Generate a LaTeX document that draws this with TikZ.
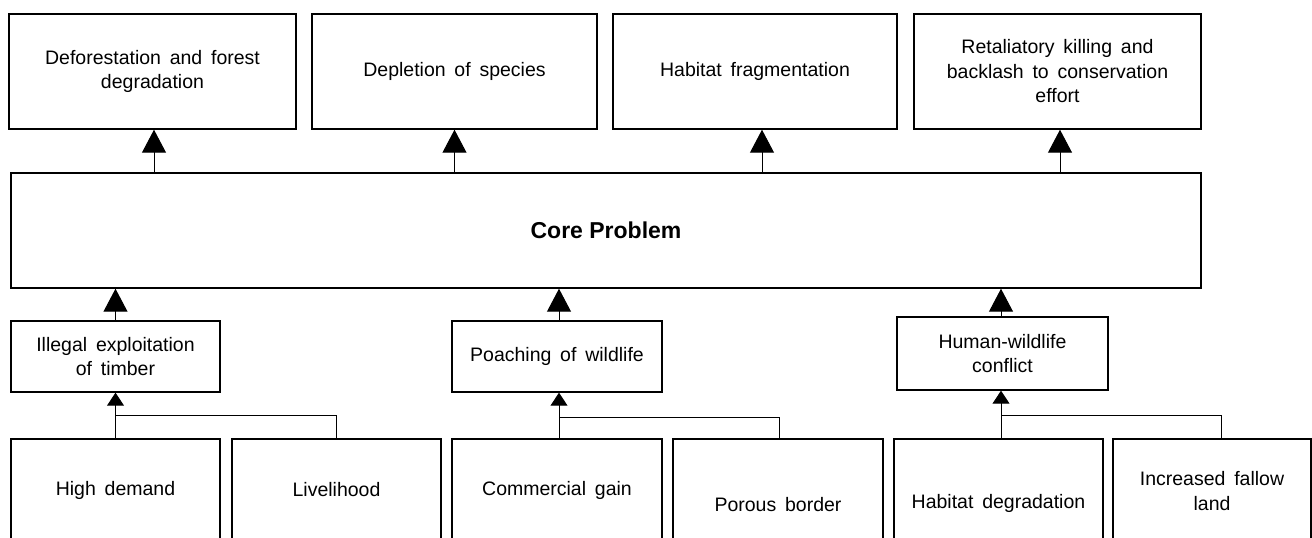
\documentclass[tikz,border=0pt]{standalone}
\usepackage{fontspec}
\setmainfont{Liberation Sans}
\usetikzlibrary{arrows.meta}
% slightly wider word spacing for box labels
\newcommand\boxlabelfont{\fontsize{19.5}{24.5}\selectfont\spaceskip=0.45em plus 0.1em minus 0.05em\relax}
\begin{document}
\begin{tikzpicture}[x=1pt,y=-1pt,
  box/.style={draw, line width=1.4pt, rectangle, inner sep=0pt, align=center,
    font=\boxlabelfont},
  bigarr/.style={line width=1pt, -{Triangle[length=23pt,width=24pt]}},
  smallarr/.style={line width=1pt, -{Triangle[length=13pt,width=17pt]}},
  link/.style={line width=1pt}]
\clip (0,0) rectangle (1312,538);
\fill[white] (0,0) rectangle (1312,538);

% effects
\node[box, minimum width=287, minimum height=115] (t1) at (152.5,71.5) {Deforestation and forest\\degradation};
\node[box, minimum width=285, minimum height=115] (t2) at (454.5,71.5) {Depletion of species};
\node[box, minimum width=284, minimum height=115] (t3) at (755,71.5) {Habitat fragmentation};
\node[box, minimum width=287, minimum height=115] (t4) at (1057.5,71.5) {Retaliatory killing and\\backlash to conservation\\effort};

% core problem
\node[box, minimum width=1190, minimum height=115, font=\fontsize{23}{28}\selectfont\bfseries] (core) at (606,230.5) {Core Problem};

% direct causes
\node[box, minimum width=209, minimum height=71] (ill) at (115.5,356.5) {Illegal exploitation\\of timber};
\node[box, minimum width=210, minimum height=71] (poa) at (557,356.5) {Poaching of wildlife};
\node[box, minimum width=211, minimum height=73] (hwc) at (1002.5,353.5) {Human-wildlife\\conflict};

% root causes (boxes run past the lower edge)
\node[box, minimum width=209, minimum height=102] (hd) at (115.5,490) {High demand};
\node[box, minimum width=209, minimum height=102] (liv) at (336.5,490) {Livelihood};
\node[box, minimum width=210, minimum height=102] (cg) at (557,490) {Commercial gain};
\node[box, minimum width=210, minimum height=132] (pb) at (778,505) {Porous border};
\node[box, minimum width=209, minimum height=128] (hab) at (998.5,503) {Habitat degradation};
\node[box, minimum width=198, minimum height=104] (fal) at (1212,491) {Increased fallow\\land};

% core problem to effects
\draw[bigarr] ([xshift=1.5pt]t1.south |- core.north) -- ([xshift=1.5pt]t1.south);
\draw[bigarr] (t2.south |- core.north) -- (t2.south);
\draw[bigarr] ([xshift=7pt]t3.south |- core.north) -- ([xshift=7pt]t3.south);
\draw[bigarr] ([xshift=2.5pt]t4.south |- core.north) -- ([xshift=2.5pt]t4.south);

% direct causes to core problem
\draw[bigarr] (ill.north) -- (ill.north |- core.south);
\draw[bigarr] ([xshift=2pt]poa.north) -- ([xshift=2pt]poa.north |- core.south);
\draw[bigarr] ([xshift=-1.5pt]hwc.north) -- ([xshift=-1.5pt]hwc.north |- core.south);

% root causes to direct causes
\coordinate (j1) at (116,415);
\draw[smallarr] (hd.north) -- (ill.south);
\draw[link] (liv.north) |- (j1);

\coordinate (j2) at (559,417);
\draw[smallarr] ([xshift=2pt]cg.north) -- ([xshift=2pt]poa.south);
\draw[link] ([xshift=1pt]pb.north) |- (j2);

\coordinate (j3) at (1001,415);
\draw[smallarr] ([xshift=2.5pt]hab.north) -- ([xshift=-1.5pt]hwc.south);
\draw[link] ([xshift=9pt]fal.north) |- (j3);
\end{tikzpicture}
\end{document}
